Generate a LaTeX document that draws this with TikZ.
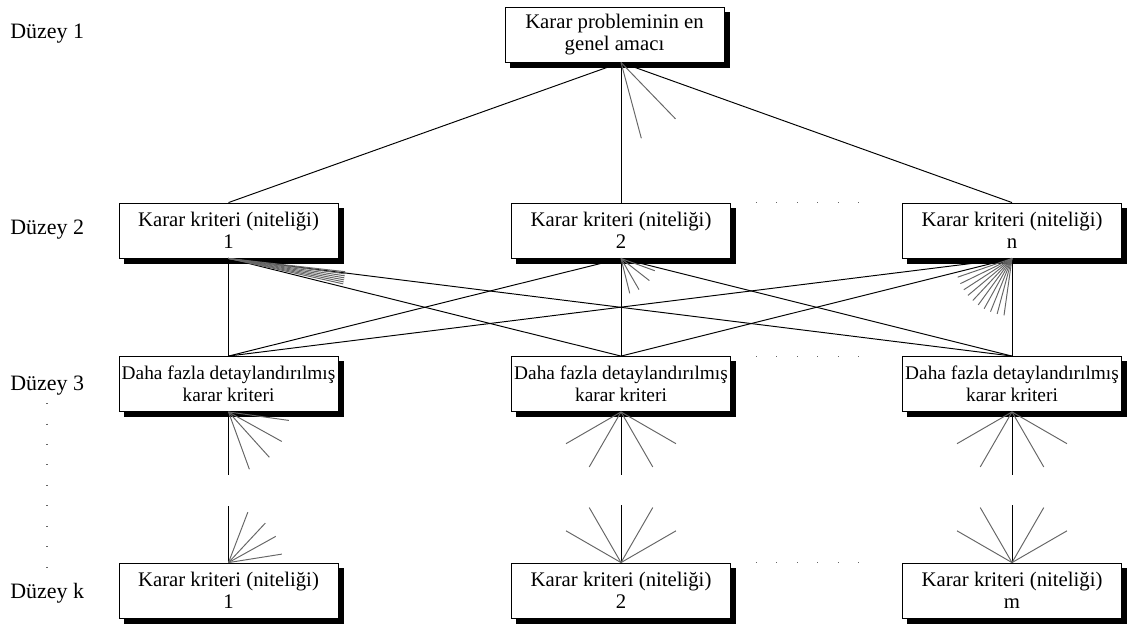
\documentclass[tikz,border=0pt]{standalone}
\usepackage{fontspec}
\setmainfont{Liberation Serif}

% box with its black shadow: [style] {name} {x} {y} {text}
\newcommand\critbox[5][]{%
  \node[box,fill=black,draw=black] at (#3+5,#4+5) {};
  \node[box,#1] (#2) at (#3,#4) {#5};}

\begin{document}
\begin{tikzpicture}[x=0.02cm,y=-0.02cm,
  box/.style={draw,fill=white,line width=0.5pt,minimum width=4.38cm,minimum height=1.1cm,
    align=center,inner sep=1pt,font=\fontsize{11.8}{12.5}\selectfont},
  small/.style={font=\fontsize{11}{12.5}\selectfont},
  lvl/.style={anchor=west,inner sep=0pt,font=\fontsize{12.5}{14}\selectfont},
  link/.style={line width=0.55pt},
  fan/.style={line width=0.55pt,black!60},
  dots/.style={black!60,line width=0.6pt,dash pattern=on 0.02cm off 0.39cm}]
  \useasboundingbox (0,0) rectangle (1132,625);

  % level names
  \node[lvl] (lv1) at (10,34) {Düzey 1};
  \node[lvl] (lv2) at (10,230) {Düzey 2};
  \node[lvl] (lv3) at (10,386) {Düzey 3};
  \node[lvl] (lvk) at (10,593) {Düzey k};
  \draw[dots] (47,403) -- (47,578);

  % boxes
  \critbox{top}{614.5}{34.5}{Karar probleminin en\\genel amacı}
  \critbox{k21}{228.5}{230.5}{Karar kriteri (niteliği)\\1}
  \critbox{k22}{621}{230.5}{Karar kriteri (niteliği)\\2}
  \critbox{k2n}{1012}{230.5}{Karar kriteri (niteliği)\\n}
  \critbox[small]{d31}{228.5}{384}{Daha fazla detaylandırılmış\\karar kriteri}
  \critbox[small]{d32}{621}{384}{Daha fazla detaylandırılmış\\karar kriteri}
  \critbox[small]{d33}{1012}{384}{Daha fazla detaylandırılmış\\karar kriteri}
  \critbox{kk1}{228.5}{590.5}{Karar kriteri (niteliği)\\1}
  \critbox{kk2}{621}{590.5}{Karar kriteri (niteliği)\\2}
  \critbox{kkm}{1012}{590.5}{Karar kriteri (niteliği)\\m}

  % dots between columns
  \foreach \a/\b in {k22/k2n,d32/d33,kk2/kkm}
    \draw[dots] ([xshift=0.5cm]\a.north east) -- ([xshift=-0.48cm]\b.north west);

  % level 1 -> level 2
  \foreach \t in {k21,k22,k2n}
    \draw[link] (top.south -| k22) -- (\t.north);
  \foreach \a in {-75,-46}
    \draw[fan] (top.south -| k22) -- ++(\a:1.57cm);

  % level 2 -> level 3
  \foreach \s in {k21,k22,k2n}
    \foreach \t in {d31,d32,d33}
      \draw[link] (\s.south) -- (\t.north);
  \foreach \a in {-6.5,-7.5,...,-12.5}
    \draw[fan] (k21.south) -- ++(\a:2.35cm);
  \foreach \a in {-76,-60,-38,-20}
    \draw[fan] (k22.south) -- ++(\a:0.72cm);
  \foreach \a in {199,206,...,262}
    \draw[fan] (k2n.south) -- ++(\a:1.15cm);

  % level 3 -> level k (broken)
  \draw[link] (d31.south) -- ++(0,-1.26cm);
  \foreach \a in {-8,-29,-48,-70}
    \draw[fan] (d31.south) -- ++(\a:1.22cm);
  \draw[link] (kk1.north) -- ++(0,1.14cm);
  \foreach \a in {9,29,47,69}
    \draw[fan] (kk1.north) -- ++(\a:1.08cm);
  \foreach \c in {d32,d33} {
    \draw[link] (\c.south) -- ++(0,-1.26cm);
    \foreach \a in {210,240,300,330}
      \draw[fan] (\c.south) -- ++(\a:1.27cm);
  }
  \foreach \c in {kk2,kkm} {
    \draw[link] (\c.north) -- ++(0,1.16cm);
    \foreach \a in {30,60,120,150}
      \draw[fan] (\c.north) -- ++(\a:1.27cm);
  }
\end{tikzpicture}
\end{document}
